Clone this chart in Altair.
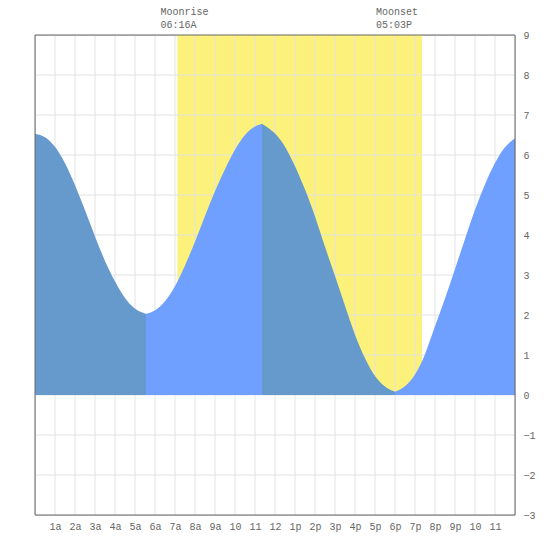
import altair as alt
import pandas as pd

# Tide heights (hour of day, height)
tide_hours = [0, 0.5, 1, 1.5, 2, 2.5, 3, 3.5, 4, 4.5, 5, 5.55, 6, 6.5, 7, 7.5, 8, 8.5, 9, 9.5,
              10, 10.5, 11, 11.35, 12, 12.5, 13, 13.5, 14, 14.5, 15, 15.5, 16, 16.5, 17, 17.5,
              18, 18.5, 19, 19.5, 20, 20.5, 21, 21.5, 22, 22.5, 23, 23.5, 24]
tide_heights = [6.53, 6.48, 6.23, 5.82, 5.26, 4.62, 3.96, 3.33, 2.82, 2.40, 2.13, 2.03, 2.09, 2.32,
                2.69, 3.23, 3.82, 4.48, 5.11, 5.65, 6.15, 6.53, 6.73, 6.78, 6.57, 6.23, 5.73, 5.15,
                4.48, 3.69, 2.98, 2.23, 1.48, 0.90, 0.44, 0.19, 0.08, 0.19, 0.48, 0.98, 1.73, 2.40,
                3.15, 3.90, 4.65, 5.28, 5.82, 6.23, 6.42]
# turning points (low/high tide hours) splitting falling/rising segments
turn_hours = [5.55, 11.35, 18.0]

daylight_start = [7.12]
daylight_end = [19.35]

moon_names = ["Moonrise", "Moonset"]
moon_times = ["06:16A", "05:03P"]
moon_hours = [6.27, 17.05]

hour_ticks = list(range(1, 24))
hour_labels = ["1a", "2a", "3a", "4a", "5a", "6a", "7a", "8a", "9a", "10", "11", "12",
               "1p", "2p", "3p", "4p", "5p", "6p", "7p", "8p", "9p", "10", "11"]
level_ticks = list(range(-3, 10))
grid_hours = list(range(1, 24))
grid_levels = list(range(-2, 9))

# build segments
bounds = [0] + turn_hours + [24]
rows = []
for i in range(len(bounds) - 1):
    lo, hi = bounds[i], bounds[i + 1]
    phase = "falling" if i % 2 == 0 else "rising"
    for h, v in zip(tide_hours, tide_heights):
        if lo <= h <= hi:
            rows.append({"hour": h, "height": v, "seg": i, "phase": phase})
tide = pd.DataFrame(rows)

FONT = "Liberation Mono"
TXT = "#666"
xs = alt.Scale(domain=[0, 24], nice=False, zero=False)
ys = alt.Scale(domain=[-3, 9], nice=False, zero=False)

label_map = "{" + ",".join(f"'{h}':'{l}'" for h, l in zip(hour_ticks, hour_labels)) + "}"

x_axis = alt.Axis(values=hour_ticks, labelExpr=label_map + "[datum.value]",
                  grid=False, ticks=False, domain=False, title=None,
                  labelFont=FONT, labelFontSize=10, labelColor=TXT,
                  labelPadding=6, labelOverlap=False)
y_axis = alt.Axis(orient="right", values=level_ticks, grid=False, ticks=False,
                  domain=False, title=None, labelFont=FONT, labelFontSize=10,
                  labelColor=TXT, labelPadding=8, labelAlign="left",
                  labelBaseline="middle", labelOverlap=False)

band = alt.Chart(pd.DataFrame({"s": daylight_start, "e": daylight_end})).mark_rect(
    color="#fcf17a"
).encode(
    x=alt.X("s:Q", scale=xs, axis=x_axis),
    x2="e:Q",
    y=alt.Y(datum=9, scale=ys, axis=y_axis),
    y2=alt.Y2(datum=0),
)

vgrid = alt.Chart(pd.DataFrame({"h": grid_hours})).mark_rule(color="#e2e2e2", strokeWidth=1).encode(
    x=alt.X("h:Q", scale=xs, axis=x_axis), y=alt.value(0), y2=alt.value(480)
)
hgrid = alt.Chart(pd.DataFrame({"v": grid_levels})).mark_rule(color="#e2e2e2", strokeWidth=1).encode(
    y=alt.Y("v:Q", scale=ys, axis=y_axis),
    x=alt.value(0), x2=alt.value(480)
)

area = alt.Chart(tide).mark_area(interpolate="basis").encode(
    x=alt.X("hour:Q", scale=xs, axis=x_axis),
    y=alt.Y("height:Q", scale=ys, axis=y_axis),
    y2=alt.datum(0),
    detail="seg:N",
    color=alt.Color("phase:N", scale=alt.Scale(domain=["falling", "rising"],
                                               range=["#6699cc", "#6f9fff"]), legend=None),
)

moon = pd.DataFrame({"name": moon_names, "time": moon_times, "hour": moon_hours})
moon_name = alt.Chart(moon).mark_text(align="left", baseline="middle", font=FONT, fontSize=10,
                                      color=TXT).encode(
    x=alt.X("hour:Q", scale=xs, axis=x_axis), y=alt.value(-23), text="name:N"
)
moon_time = alt.Chart(moon).mark_text(align="left", baseline="middle", font=FONT, fontSize=10,
                                      color=TXT).encode(
    x=alt.X("hour:Q", scale=xs, axis=x_axis), y=alt.value(-10), text="time:N"
)

frame = alt.Chart(pd.DataFrame({"k": [0]})).mark_rect(filled=False, stroke="#666", strokeWidth=1).encode(
    x=alt.value(0), x2=alt.value(480), y=alt.value(0), y2=alt.value(480)
)

chart = alt.layer(band, vgrid, hgrid, area, moon_name, moon_time, frame).properties(
    width=480, height=480,
    autosize=alt.AutoSizeParams(type="none"),
    padding={"left": 35, "top": 35, "right": 35, "bottom": 35},
).configure_view(stroke=None).configure_axis(labelOverlap=False).configure(background="white")

chart.save("out.html", embed_options={"renderer": "svg", "actions": False})
